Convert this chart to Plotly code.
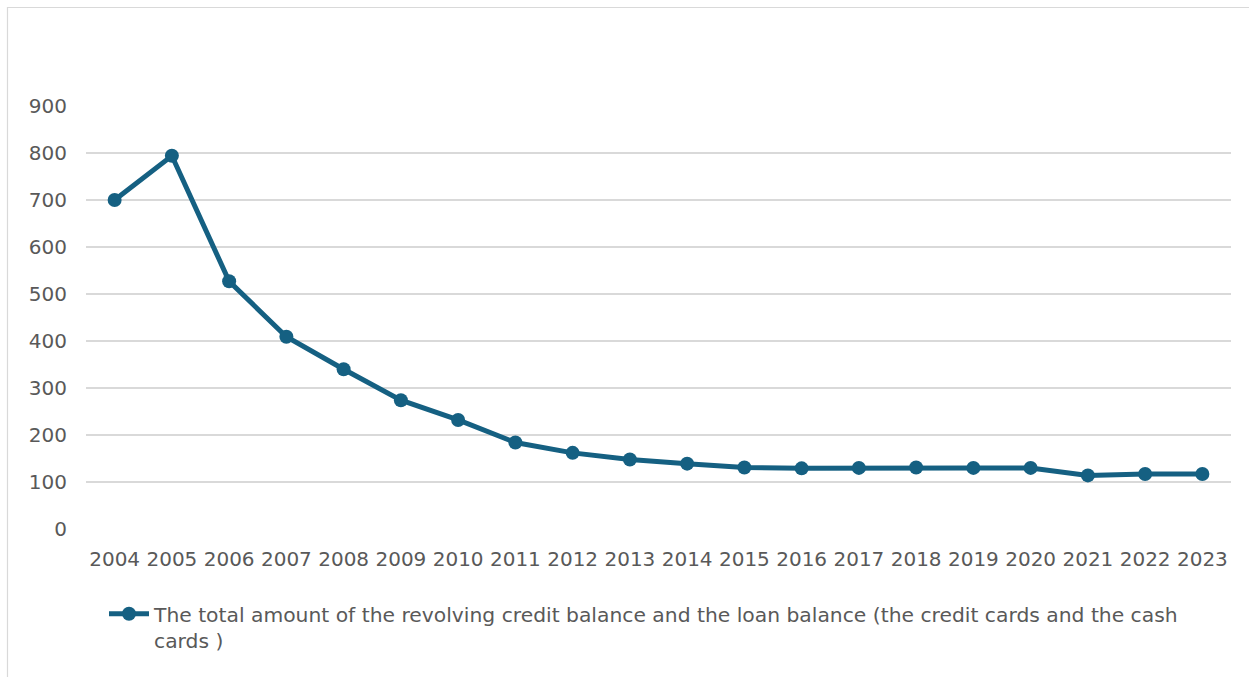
import plotly.graph_objects as go

years = [str(y) for y in range(2004, 2024)]
values = [700, 794, 527, 409, 340, 274, 232, 184, 162, 148, 139, 131, 129, 130, 131, 130, 130, 114, 117, 117]
series_name = ("The total amount of the revolving credit balance and the loan balance (the credit cards and the cash"
               "<br>cards )")
y_ticks = [0, 100, 200, 300, 400, 500, 600, 700, 800, 900]

LINE = "#156082"
TEXT = "#595959"
GRID = "#D9D9D9"
FONT = "DejaVu Sans"

W, H = 1249, 677
L, R, T, B = 86, 18, 106, 148
pw = W - L - R
ph = H - T - B

fig = go.Figure()
fig.add_trace(go.Scatter(
    x=years, y=values, name=series_name, mode="lines+markers",
    line=dict(color=LINE, width=5),
    marker=dict(color=LINE, size=14),
    showlegend=True,
))

def px_x(p):
    return (p - L) / pw

def px_y(p):
    return 1 - (p - T) / ph

fig.add_shape(type="rect", xref="paper", yref="paper",
              x0=px_x(7.5), x1=px_x(1260), y0=px_y(7.5), y1=px_y(690),
              line=dict(color="#D9D9D9", width=1.2), fillcolor="rgba(0,0,0,0)", layer="below")

fig.update_layout(
    width=W, height=H,
    margin=dict(l=L, r=R, t=T, b=B, autoexpand=False),
    paper_bgcolor="white", plot_bgcolor="white",
    font=dict(family=FONT, size=20, color=TEXT),
    showlegend=True,
    legend=dict(
        xref="container", yref="container",
        x=104 / W, y=1 - 594 / H, xanchor="left", yanchor="top",
        font=dict(family=FONT, size=20.3, color=TEXT),
        bgcolor="rgba(0,0,0,0)", itemwidth=40, tracegroupgap=0,
        valign="top",
    ),
    xaxis=dict(
        type="category", range=[-0.5, len(years) - 0.5],
        showgrid=False, showline=False, zeroline=False,
        ticks="", ticklabelstandoff=16,
        tickfont=dict(family=FONT, size=20, color=TEXT),
    ),
    yaxis=dict(
        range=[0, 900], tickvals=y_ticks,
        showgrid=True, gridcolor=GRID, gridwidth=1.5,
        zeroline=False, showline=False, ticks="",
        ticklabelstandoff=18,
        tickfont=dict(family=FONT, size=20, color=TEXT),
    ),
)

fig.write_html("out.html")
